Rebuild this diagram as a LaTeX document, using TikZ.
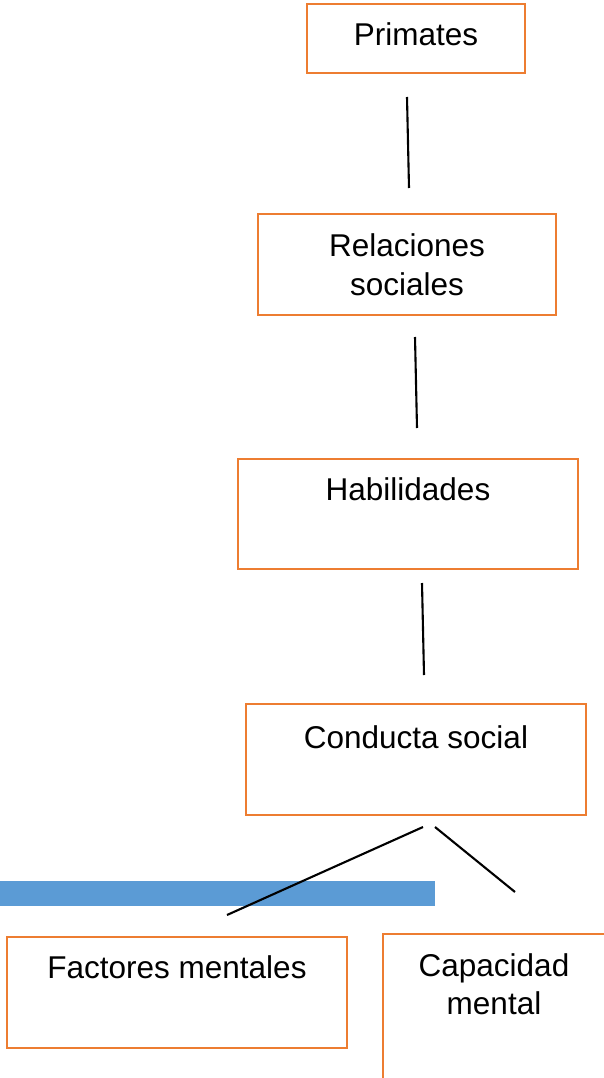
\documentclass[tikz,border=0pt]{standalone}
\usepackage{fontspec}
\setmainfont{Liberation Sans}
\definecolor{boxorange}{HTML}{ED7D31}
\definecolor{barblue}{HTML}{5B9BD5}
\begin{document}
\begin{tikzpicture}[x=1pt,y=-1pt,
  box/.style={draw=boxorange, line width=2.5pt, rectangle, inner sep=0pt},
  lbl/.style={anchor=base, inner sep=0pt, font=\fontsize{31.5}{39}\selectfont},
  conn/.style={draw=black, line width=2.1pt}]
\useasboundingbox[fill=white] (0,0) rectangle (603,1078);
% blue bar
\fill[barblue] (0,881) rectangle (435,906);
% boxes
\node[box, minimum width=218pt, minimum height=69pt] (primates) at (416,38.5) {};
\node[box, minimum width=298pt, minimum height=101pt] (relaciones) at (407,264.5) {};
\node[box, minimum width=340pt, minimum height=110pt] (habilidades) at (408,514) {};
\node[box, minimum width=340pt, minimum height=111pt] (conducta) at (416,759.5) {};
\node[box, minimum width=340pt, minimum height=111pt] (factores) at (177,992.5) {};
\draw[draw=boxorange, line width=2.5pt] (610,934) -- (383,934) -- (383,1085);
% texts
\node[lbl] (tprimates) at (416,46) {Primates};
\node[lbl] (trel1) at (407,256) {Relaciones};
\node[lbl] (trel2) at (407,295) {sociales};
\node[lbl] (thab) at (408,500) {Habilidades};
\node[lbl] (tcond) at (416,748) {Conducta social};
\node[lbl] (tfact) at (177,978) {Factores mentales};
\node[lbl] (tcap1) at (494,976) {Capacidad};
\node[lbl] (tcap2) at (494,1014) {mental};
% connector end points
\coordinate (a1) at (407,97);   \coordinate (a2) at (409,188);
\coordinate (b1) at (415,337);  \coordinate (b2) at (417,428);
\coordinate (c1) at (422,583);  \coordinate (c2) at (424,675);
\coordinate (d1) at (423,827);  \coordinate (d2) at (227,915);
\coordinate (e1) at (435,827);  \coordinate (e2) at (515,892);
\draw[conn] (a1) -- (a2);
\draw[conn] (b1) -- (b2);
\draw[conn] (c1) -- (c2);
\draw[conn] (d1) -- (d2);
\draw[conn] (e1) -- (e2);
\end{tikzpicture}
\end{document}
